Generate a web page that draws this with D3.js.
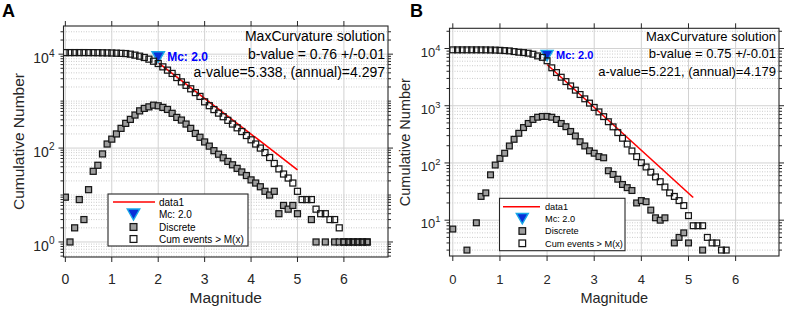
<!DOCTYPE html>
<html>
<head>
<meta charset="utf-8">
<script src="https://cdn.jsdelivr.net/npm/d3@7"></script>
<style>
  body { margin: 0; background: #fff; }
  svg { display: block; font-family: "Liberation Sans", Arial, sans-serif; }
</style>
</head>
<body>
<svg id="chart" width="789" height="310"></svg>
<script>
// ---- data: [magnitude, count] ----
const discreteA = [
  [0.0, 9], [0.1, 1], [0.2, 2], [0.3, 8], [0.4, 3], [0.5, 13], [0.6, 32], [0.7, 43], [0.8, 75], [0.9, 122],
  [1.0, 155], [1.1, 200], [1.2, 263], [1.3, 336], [1.4, 408], [1.5, 505], [1.6, 620], [1.7, 700], [1.8, 755], [1.9, 820],
  [2.0, 795], [2.1, 735], [2.2, 665], [2.3, 550], [2.4, 450], [2.5, 395], [2.6, 325], [2.7, 263], [2.8, 205], [2.9, 170],
  [3.0, 135], [3.1, 110], [3.2, 88], [3.3, 74], [3.4, 62], [3.5, 52], [3.6, 44], [3.7, 37], [3.8, 31], [3.9, 26],
  [4.0, 21], [4.1, 18], [4.2, 15], [4.3, 12], [4.4, 10], [4.5, 12], [4.6, 4], [4.7, 6], [4.8, 5], [4.9, 6],
  [5.0, 4], [5.3, 3], [5.4, 1], [5.6, 1], [5.8, 1], [5.9, 1], [6.0, 1], [6.1, 1], [6.2, 1], [6.3, 1], [6.4, 1], [6.5, 1]
]
const cumA = [
  [0.0, 10800], [0.1, 10800], [0.2, 10800], [0.3, 10800], [0.4, 10800], [0.5, 10790], [0.6, 10780], [0.7, 10750], [0.8, 10700], [0.9, 10650],
  [1.0, 10600], [1.1, 10500], [1.2, 10400], [1.3, 10300], [1.4, 10000], [1.5, 9540], [1.6, 9060], [1.7, 8510], [1.8, 7830], [1.9, 7080],
  [2.0, 6330], [2.1, 5370], [2.2, 4570], [2.3, 3890], [2.4, 3180], [2.5, 2570], [2.6, 2170], [2.7, 1830], [2.8, 1520], [2.9, 1260],
  [3.0, 966], [3.1, 800], [3.2, 660], [3.3, 555], [3.4, 465], [3.5, 390], [3.6, 325], [3.7, 270], [3.8, 225], [3.9, 185],
  [4.0, 150], [4.1, 122], [4.2, 100], [4.3, 80], [4.4, 63], [4.5, 47], [4.6, 36], [4.7, 28], [4.8, 23], [4.9, 18],
  [5.0, 12], [5.1, 8], [5.2, 8], [5.3, 8], [5.4, 5], [5.5, 4], [5.6, 4], [5.7, 3], [5.8, 3], [5.9, 2],
  [6.0, 1], [6.1, 1], [6.2, 1], [6.3, 1], [6.4, 1], [6.5, 1]
]
const fitA = [[2.0, 6577], [5.0, 34.5]]
const mcA = [2.0, 8630]
const textA = ['MaxCurvature solution', 'b-value = 0.76 +/-0.01', 'a-value=5.338, (annual)=4.297']

const discreteB = [
  [0.0, 7], [0.3, 3], [0.5, 9], [0.6, 26], [0.7, 30], [0.8, 62], [0.9, 92],
  [1.0, 120], [1.1, 148], [1.2, 198], [1.3, 259], [1.4, 330], [1.5, 415], [1.6, 490], [1.7, 575], [1.8, 630], [1.9, 650],
  [2.0, 650], [2.1, 630], [2.2, 575], [2.3, 490], [2.4, 430], [2.5, 355], [2.6, 296], [2.7, 235], [2.8, 198], [2.9, 163],
  [3.0, 148], [3.1, 129], [3.2, 123], [3.3, 73], [3.4, 63], [3.5, 52], [3.6, 42], [3.7, 37], [3.8, 33], [3.9, 20],
  [4.0, 22], [4.1, 21], [4.2, 15], [4.3, 11], [4.4, 10], [4.5, 11], [4.7, 4], [4.8, 5], [4.9, 6], [5.0, 4], [5.3, 3]
]
const cumB = [
  [0.0, 9470], [0.1, 9470], [0.2, 9470], [0.3, 9470], [0.4, 9470], [0.5, 9470], [0.6, 9460], [0.7, 9450], [0.8, 9420], [0.9, 9380],
  [1.0, 9300], [1.1, 9190], [1.2, 9080], [1.3, 8830], [1.4, 8610], [1.5, 8480], [1.6, 8280], [1.7, 7950], [1.8, 7420], [1.9, 7000],
  [2.0, 6100], [2.1, 4600], [2.2, 3800], [2.3, 3150], [2.4, 2640], [2.5, 2220], [2.6, 1870], [2.7, 1570], [2.8, 1320], [2.9, 1110],
  [3.0, 935], [3.1, 780], [3.2, 645], [3.3, 525], [3.4, 427], [3.5, 339], [3.6, 270], [3.7, 214], [3.8, 162], [3.9, 129],
  [4.0, 101], [4.1, 85], [4.2, 69], [4.3, 57], [4.4, 47], [4.5, 38], [4.6, 30], [4.7, 26], [4.8, 22], [4.9, 18],
  [5.0, 12], [5.1, 8], [5.2, 8], [5.3, 8], [5.4, 5], [5.5, 4], [5.6, 4], [5.7, 3], [5.8, 3]
]
const fitB = [[2.0, 5260], [5.1, 24.9]]
const mcB = [2.0, 7520]
const textB = ['MaxCurvature solution', 'b-value = 0.75 +/-0.01', 'a-value=5.221, (annual)=4.179']

const xTicks = [0, 1, 2, 3, 4, 5, 6]
const legendLabels = ['data1', 'Mc: 2.0', 'Discrete', 'Cum events > M(x)']
const mcLabel = 'Mc: 2.0'

const svg = d3.select('#chart')
const AXIS = '#262626'

function drawPanel (p) {
  const g = svg.append('g')
  const x = d3.scaleLinear().domain(p.xDomain).range([p.left, p.right])
  const y = d3.scaleLog().domain(p.yDomain).range([p.bottom, p.top])
  const lo = Math.floor(Math.log10(p.yDomain[0]))
  const hi = Math.ceil(Math.log10(p.yDomain[1]))
  const inY = v => v >= p.yDomain[0] && v <= p.yDomain[1]

  const majors = p.yMajor
  const minors = []
  for (let k = lo; k <= hi; k++) {
    for (let m = 1; m <= 9; m++) {
      const v = m * Math.pow(10, k)
      if (inY(v) && !majors.includes(v)) minors.push(v)
    }
  }

  // grid
  const grid = g.append('g')
  grid.selectAll('.gy-minor').data(minors).enter().append('line')
    .attr('x1', p.left).attr('x2', p.right)
    .attr('y1', d => y(d)).attr('y2', d => y(d))
    .attr('stroke', '#b4b4b4').attr('stroke-width', 0.7).attr('stroke-dasharray', '1,1.5')
  grid.selectAll('.gy-major').data(majors).enter().append('line')
    .attr('x1', p.left).attr('x2', p.right)
    .attr('y1', d => y(d)).attr('y2', d => y(d))
    .attr('stroke', '#d2d2d2').attr('stroke-width', 1)
  grid.selectAll('.gx').data(xTicks).enter().append('line')
    .attr('x1', d => x(d)).attr('x2', d => x(d))
    .attr('y1', p.top).attr('y2', p.bottom)
    .attr('stroke', '#d2d2d2').attr('stroke-width', 1)

  // clip
  const clipId = 'clip' + p.name
  svg.append('clipPath').attr('id', clipId).append('rect')
    .attr('x', p.left).attr('y', p.top).attr('width', p.right - p.left).attr('height', p.bottom - p.top)
  const plot = g.append('g').attr('clip-path', `url(#${clipId})`)

  const sq = p.sq
  // fit line
  plot.append('path')
    .attr('d', d3.line().x(d => x(d[0])).y(d => y(d[1]))(p.fit))
    .attr('stroke', '#ff0000').attr('stroke-width', 1.6).attr('fill', 'none')

  // triangle Mc
  const tri = `M${-p.tw / 2},${-p.th / 2}L${p.tw / 2},${-p.th / 2}L0,${p.th / 2}Z`
  plot.append('path')
    .attr('d', tri)
    .attr('transform', `translate(${x(p.mc[0])},${y(p.mc[1])})`)
    .attr('fill', '#0a2fd8').attr('stroke', '#18a8e8').attr('stroke-width', 1.4)

  plot.selectAll('.disc').data(p.discrete).enter().append('rect')
    .attr('x', d => x(d[0]) - sq / 2).attr('y', d => y(d[1]) - sq / 2)
    .attr('width', sq).attr('height', sq)
    .attr('fill', '#9e9e9e').attr('stroke', '#161616').attr('stroke-width', 1.25)
  plot.selectAll('.cum').data(p.cum).enter().append('rect')
    .attr('x', d => x(d[0]) - sq / 2).attr('y', d => y(d[1]) - sq / 2)
    .attr('width', sq).attr('height', sq)
    .attr('fill', 'none').attr('stroke', '#161616').attr('stroke-width', 1.25)

  // Mc label
  g.append('text')
    .attr('x', x(p.mc[0]) + 9).attr('y', y(p.mc[1])).attr('dy', '0.35em')
    .attr('fill', '#0000ff').attr('font-weight', 'bold').attr('font-size', p.mcFont)
    .text(mcLabel)

  // annotation text
  g.selectAll('.ann').data(p.text).enter().append('text')
    .attr('x', p.right - 3).attr('y', (d, i) => p.annY + i * p.annStep).attr('dy', '0.35em')
    .attr('text-anchor', 'end').attr('font-size', p.annFont).attr('fill', '#000')
    .text(d => d)

  // box + ticks
  const ax = g.append('g').attr('stroke', AXIS)
  ax.append('rect')
    .attr('x', p.left).attr('y', p.top).attr('width', p.right - p.left).attr('height', p.bottom - p.top)
    .attr('fill', 'none').attr('stroke-width', 1.1)
  xTicks.forEach(t => {
    ax.append('line').attr('x1', x(t)).attr('x2', x(t)).attr('y1', p.bottom).attr('y2', p.bottom + 5)
    ax.append('line').attr('x1', x(t)).attr('x2', x(t)).attr('y1', p.top).attr('y2', p.top - 5)
  })
  majors.forEach(v => {
    ax.append('line').attr('x1', p.left - 5).attr('x2', p.left).attr('y1', y(v)).attr('y2', y(v))
    ax.append('line').attr('x1', p.right).attr('x2', p.right + 5).attr('y1', y(v)).attr('y2', y(v))
  })
  minors.forEach(v => {
    ax.append('line').attr('x1', p.left - 3).attr('x2', p.left).attr('y1', y(v)).attr('y2', y(v))
    ax.append('line').attr('x1', p.right).attr('x2', p.right + 3).attr('y1', y(v)).attr('y2', y(v))
  })

  // tick labels
  g.selectAll('.xl').data(xTicks).enter().append('text')
    .attr('x', d => x(d)).attr('y', 284)
    .attr('text-anchor', 'middle').attr('font-size', p.tickFont).attr('fill', AXIS)
    .text(d => d)
  majors.forEach(v => {
    const t = g.append('text')
      .attr('x', p.left - 9).attr('y', y(v) + p.tickFont * 0.62)
      .attr('text-anchor', 'end').attr('font-size', p.tickFont).attr('fill', AXIS)
    t.append('tspan').text('10')
    t.append('tspan').attr('dy', -p.tickFont * 0.45).attr('font-size', p.tickFont * 0.72)
      .text(Math.round(Math.log10(v)))
  })

  // axis labels
  g.append('text')
    .attr('x', (p.left + p.right) / 2).attr('y', 303)
    .attr('text-anchor', 'middle').attr('font-size', p.labelFont).attr('fill', AXIS)
    .text('Magnitude')
  g.append('text')
    .attr('transform', `translate(${p.ylabelX},${(p.top + p.bottom) / 2}) rotate(-90)`)
    .attr('text-anchor', 'middle').attr('font-size', p.labelFont).attr('fill', AXIS)
    .text('Cumulative Number')

  // panel letter
  g.append('text')
    .attr('x', p.letterX).attr('y', 17)
    .attr('font-size', 18).attr('font-weight', 'bold').attr('fill', '#000')
    .text(p.name)

  // legend
  const L = p.legend
  const lg = g.append('g')
  lg.append('rect')
    .attr('x', L.x0).attr('y', L.y0).attr('width', L.x1 - L.x0).attr('height', L.y1 - L.y0)
    .attr('fill', '#fff').attr('stroke', AXIS).attr('stroke-width', 1.1)
  lg.append('line')
    .attr('x1', L.lx0).attr('x2', L.lx1).attr('y1', L.rows[0]).attr('y2', L.rows[0])
    .attr('stroke', '#ff0000').attr('stroke-width', 1.6)
  lg.append('path')
    .attr('d', tri)
    .attr('transform', `translate(${L.mx},${L.rows[1]})`)
    .attr('fill', '#0a2fd8').attr('stroke', '#18a8e8').attr('stroke-width', 1.4)
  const lsq = sq + 0.8
  lg.append('rect')
    .attr('x', L.mx - lsq / 2).attr('y', L.rows[2] - lsq / 2).attr('width', lsq).attr('height', lsq)
    .attr('fill', '#9e9e9e').attr('stroke', '#161616').attr('stroke-width', 1.25)
  lg.append('rect')
    .attr('x', L.mx - lsq / 2).attr('y', L.rows[3] - lsq / 2).attr('width', lsq).attr('height', lsq)
    .attr('fill', 'none').attr('stroke', '#161616').attr('stroke-width', 1.25)
  lg.selectAll('.lt').data(legendLabels).enter().append('text')
    .attr('x', L.tx).attr('y', (d, i) => L.rows[i]).attr('dy', '0.35em')
    .attr('font-size', L.font).attr('fill', '#000')
    .text(d => d)
}

drawPanel({
  name: 'A',
  letterX: 2,
  left: 63.5, right: 388, top: 26, bottom: 257,
  xDomain: [-0.04, 6.95],
  yDomain: [Math.pow(10, -0.32), Math.pow(10, 4.6)],
  yMajor: [1, 100, 10000],
  discrete: discreteA, cum: cumA, fit: fitA, mc: mcA, text: textA,
  sq: 6, tw: 12.5, th: 11,
  mcFont: 12, annFont: 14, annY: 36, annStep: 18, tickFont: 14, labelFont: 15.5,
  ylabelX: 24,
  legend: { x0: 108, x1: 248, y0: 194, y1: 246, rows: [202, 214.5, 227, 239], lx0: 113, lx1: 155, mx: 133.5, tx: 159, font: 10 }
})

drawPanel({
  name: 'B',
  letterX: 410,
  left: 449.5, right: 779, top: 28.3, bottom: 256,
  xDomain: [-0.07, 6.92],
  yDomain: [Math.pow(10, 0.374), Math.pow(10, 4.353)],
  yMajor: [10, 100, 1000, 10000],
  discrete: discreteB, cum: cumB, fit: fitB, mc: mcB, text: textB,
  sq: 5.8, tw: 12, th: 10.5,
  mcFont: 11, annFont: 13, annY: 36.5, annStep: 17.3, tickFont: 13, labelFont: 14.5,
  ylabelX: 410,
  legend: { x0: 499.5, x1: 625, y0: 198.3, y1: 250.7, rows: [206.7, 218.7, 231, 243.3], lx0: 503, lx1: 540, mx: 522.3, tx: 545, font: 9.2 }
})
</script>
</body>
</html>
